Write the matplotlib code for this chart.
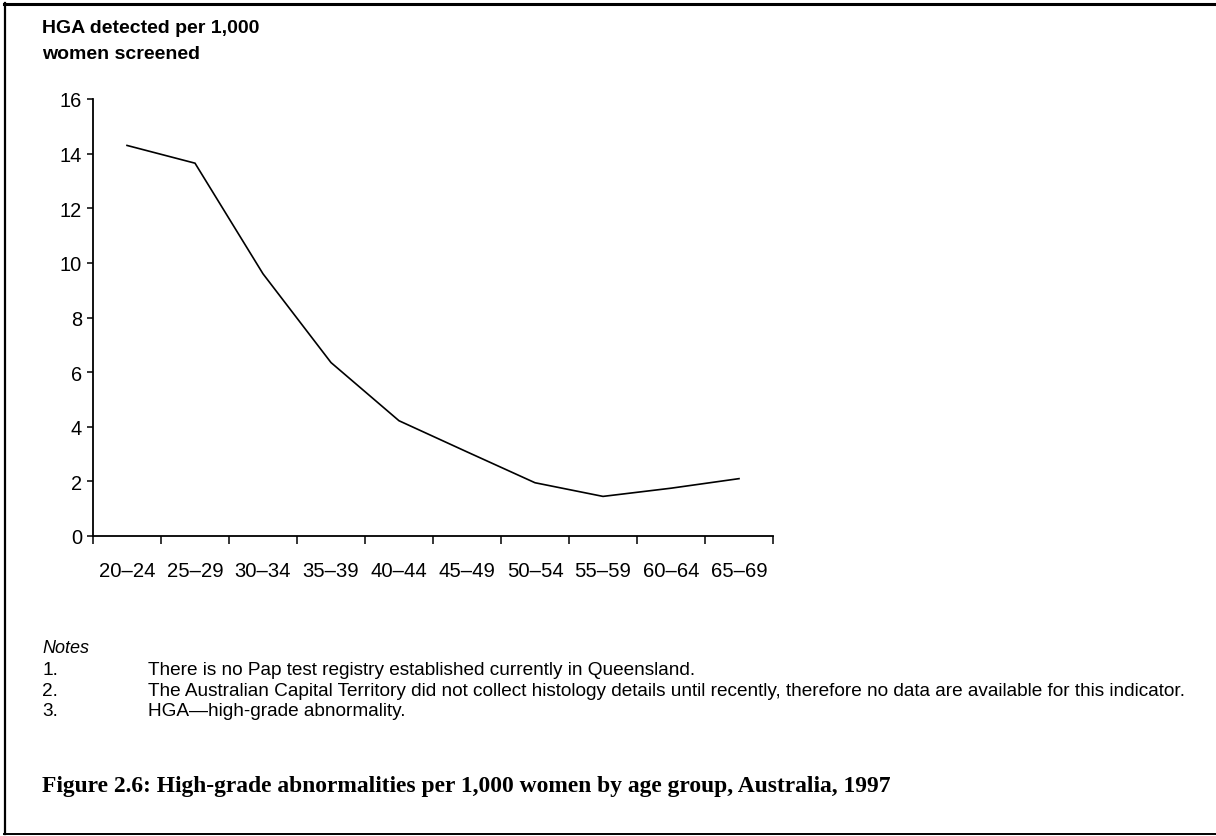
import matplotlib

matplotlib.use("Agg")
import matplotlib.pyplot as plt
from matplotlib.lines import Line2D
import numpy as np

age_groups = ["20–24", "25–29", "30–34", "35–39", "40–44",
              "45–49", "50–54", "55–59", "60–64", "65–69"]
hga_rate = [14.3, 13.65, 9.6, 6.35, 4.22, 3.08, 1.95, 1.45, 1.75, 2.1]
y_ticks = [0, 2, 4, 6, 8, 10, 12, 14, 16]

ylabel_lines = ["HGA detected per 1,000", "women screened"]
notes = [
    ("1.", "There is no Pap test registry established currently in Queensland."),
    ("2.", "The Australian Capital Territory did not collect histology details "
           "until recently, therefore no data are available for this indicator."),
    ("3.", "HGA\u2014high-grade abnormality."),
]
caption = ("Figure 2.6: High-grade abnormalities per 1,000 women by age group, "
           "Australia, 1997")

W, H = 1216, 837
fig = plt.figure(figsize=(W / 100, H / 100), dpi=100)
plt.rcParams["font.family"] = ["Liberation Sans", "DejaVu Sans"]

ax = fig.add_axes([93 / W, 1 - 537 / H, 680 / W, 437 / H])
x = np.arange(len(age_groups)) + 0.5
ax.plot(x, hga_rate, color="black", linewidth=1.2, solid_joinstyle="miter")

ax.set_xlim(0, len(age_groups))
ax.set_ylim(0, 16)
ax.set_xticks(np.arange(len(age_groups) + 1))
ax.set_xticklabels([])
ax.set_xticks(x, minor=True)
ax.set_xticklabels(age_groups, minor=True, fontsize=14.6)
ax.tick_params(axis="x", which="major", direction="out", length=6,
               width=1.1, color="black")
ax.tick_params(axis="x", which="minor", length=0, pad=18)
ax.set_yticks(y_ticks)
ax.set_yticklabels([str(v) for v in y_ticks], fontsize=14.4)
ax.tick_params(axis="y", direction="out", length=4, width=1.1, pad=4)
for side in ("top", "right"):
    ax.spines[side].set_visible(False)
for side in ("left", "bottom"):
    ax.spines[side].set_linewidth(1.3)

for i, line in enumerate(ylabel_lines):
    fig.text(42 / W, 1 - (33 + 26 * i) / H, line, fontsize=14,
             fontweight="bold", ha="left", va="baseline")

fig.text(42 / W, 1 - 653 / H, "Notes", fontsize=13, style="italic",
         ha="left", va="baseline")
for i, (num, text) in enumerate(notes):
    yb = 1 - (675 + 20.5 * i) / H
    fig.text(42 / W, yb, num, fontsize=13.7, ha="left", va="baseline")
    fig.text(148 / W, yb, text, fontsize=13.7, ha="left", va="baseline")

fig.text(42 / W, 1 - 792 / H, caption, fontsize=16.9, fontweight="bold",
         family=["Liberation Serif", "DejaVu Serif"], ha="left", va="baseline")

# frame round the figure (top, left, bottom)
fig.add_artist(Line2D([4 / W, 1], [1 - 5 / H, 1 - 5 / H], color="black",
                      linewidth=2.2, transform=fig.transFigure))
fig.add_artist(Line2D([5 / W, 5 / W], [1 - 4 / H, 1 - 835 / H], color="black",
                      linewidth=1.6, transform=fig.transFigure))
fig.add_artist(Line2D([4 / W, 1], [1 - 835 / H, 1 - 835 / H], color="black",
                      linewidth=1.4, transform=fig.transFigure))

fig.savefig("out.png", dpi=100, facecolor="white")
